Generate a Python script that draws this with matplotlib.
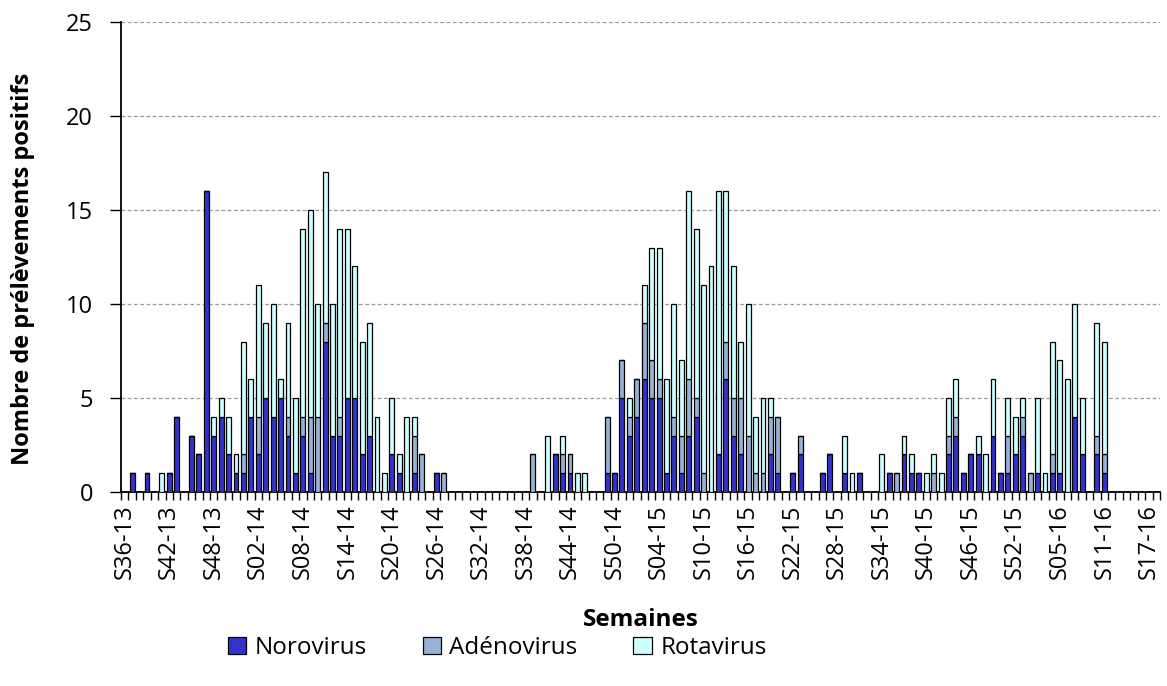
import matplotlib
matplotlib.use("Agg")
import matplotlib.pyplot as plt
import numpy as np
from matplotlib.patches import Patch

# ---- data: weekly positive samples, S36-13 .. S18-16 ----
def week_labels():
    labs = []
    for w in range(36, 53):
        labs.append(f"S{w:02d}-13")
    for w in range(1, 53):
        labs.append(f"S{w:02d}-14")
    for w in range(1, 54):
        labs.append(f"S{w:02d}-15")
    for w in range(1, 19):
        labs.append(f"S{w:02d}-16")
    return labs

weeks = week_labels()

norovirus = [
    0, 1, 0, 1, 0, 0, 1, 4, 0, 3, 2, 16, 3, 4, 2, 1, 1, 4, 2, 5,
    4, 5, 3, 1, 3, 1, 0, 8, 3, 3, 5, 5, 2, 3, 0, 0, 2, 1, 0, 1,
    0, 0, 1, 0, 0, 0, 0, 0, 0, 0, 0, 0, 0, 0, 0, 0, 0, 0, 2, 1,
    1, 0, 0, 0, 0, 1, 1, 5, 3, 4, 6, 5, 5, 1, 3, 1, 3, 4, 0, 0,
    2, 6, 3, 2, 0, 0, 0, 2, 1, 0, 1, 2, 0, 0, 1, 2, 0, 1, 0, 1,
    0, 0, 0, 1, 0, 2, 1, 1, 0, 0, 0, 2, 3, 1, 2, 2, 0, 3, 1, 1,
    2, 3, 0, 1, 0, 1, 1, 0, 4, 2, 0, 2, 1, 0, 0, 0, 0, 0, 0, 0,
]
adenovirus = [
    0, 0, 0, 0, 0, 0, 0, 0, 0, 0, 0, 0, 0, 0, 0, 0, 1, 0, 2, 0,
    0, 0, 1, 0, 1, 3, 4, 1, 0, 1, 0, 0, 0, 0, 0, 0, 0, 0, 0, 2,
    2, 0, 0, 1, 0, 0, 0, 0, 0, 0, 0, 0, 0, 0, 0, 2, 0, 0, 0, 1,
    1, 0, 0, 0, 0, 3, 0, 2, 1, 2, 3, 2, 1, 0, 1, 2, 3, 1, 1, 0,
    0, 2, 2, 3, 3, 1, 1, 2, 3, 0, 0, 1, 0, 0, 0, 0, 0, 0, 0, 0,
    0, 0, 0, 0, 1, 0, 0, 0, 0, 1, 0, 1, 1, 0, 0, 0, 0, 0, 0, 2,
    0, 1, 1, 0, 0, 1, 0, 0, 0, 0, 0, 1, 1, 0, 0, 0, 0, 0, 0, 0,
]
rotavirus = [
    0, 0, 0, 0, 0, 1, 0, 0, 0, 0, 0, 0, 1, 1, 2, 1, 6, 2, 7, 4,
    6, 1, 5, 4, 10, 11, 6, 8, 7, 10, 9, 7, 6, 6, 4, 1, 3, 1, 4, 1,
    0, 0, 0, 0, 0, 0, 0, 0, 0, 0, 0, 0, 0, 0, 0, 0, 0, 3, 0, 1,
    0, 1, 1, 0, 0, 0, 0, 0, 1, 0, 2, 6, 7, 5, 6, 4, 10, 9, 10, 12,
    14, 8, 7, 3, 7, 3, 4, 1, 0, 0, 0, 0, 0, 0, 0, 0, 0, 2, 1, 0,
    0, 0, 2, 0, 0, 1, 1, 0, 1, 1, 1, 2, 2, 0, 0, 1, 2, 3, 0, 2,
    2, 1, 0, 4, 1, 6, 6, 6, 6, 3, 0, 6, 6, 0, 0, 0, 0, 0, 0, 0,
]
series_names = ["Norovirus", "Adénovirus", "Rotavirus"]
colors = ["#3333CC", "#95B3D7", "#CCFFFF"]

# ---- figure ----
plt.rcParams['font.family'] = ['Open Sans', 'DejaVu Sans']
fig = plt.figure(figsize=(11.67, 6.86), dpi=100)
ax = fig.add_axes([121/1167, 1 - 492/686, (1160-121)/1167, (492-22)/686])

x = np.arange(len(weeks))
n = np.array(norovirus)
a = np.array(adenovirus)
r = np.array(rotavirus)
w = 0.66
ax.bar(x, n, width=w, color=colors[0], edgecolor="black", linewidth=0.9, zorder=3)
ax.bar(x, a, width=w, bottom=n, color=colors[1], edgecolor="black", linewidth=0.9, zorder=3)
ax.bar(x, r, width=w, bottom=n + a, color=colors[2], edgecolor="black", linewidth=0.9, zorder=3)

ax.set_xlim(-0.5, len(weeks) - 0.5)
ax.set_ylim(0, 25)
ax.set_yticks(range(0, 26, 5))
ax.yaxis.grid(True, linestyle=(0, (3, 2)), color="#999999", linewidth=0.9, zorder=0)
ax.tick_params(axis="y", labelsize=17, length=8, width=1, pad=12)

ax.set_xticks(x[::6])
ax.set_xticklabels(weeks[::6], rotation=90, fontsize=17)
ax.set_xticks(np.arange(len(weeks) + 1) - 0.5, minor=True)
ax.tick_params(axis="x", which="major", length=0, pad=9)
ax.tick_params(axis="x", which="minor", length=6, width=1)

for s in ["top", "right"]:
    ax.spines[s].set_visible(False)
for s in ["left", "bottom"]:
    ax.spines[s].set_linewidth(1.3)

ax.set_ylabel("Nombre de prélèvements positifs", fontsize=17, fontweight="bold")
ax.yaxis.set_label_coords(-0.083, 0.475)
fig.text(0.549, 1 - 620/686, "Semaines", fontsize=17.5, fontweight="bold",
         ha="center", va="center")

handles = [Patch(facecolor=c, edgecolor="black", linewidth=0.9) for c in colors]
fig.legend(handles, series_names, loc="center", bbox_to_anchor=(0.426, 1 - 648/686),
           ncol=3, frameon=False, fontsize=17.5, columnspacing=2.3, handlelength=0.75,
           handleheight=0.75, handletextpad=0.35)

fig.savefig("out.png", dpi=100)
